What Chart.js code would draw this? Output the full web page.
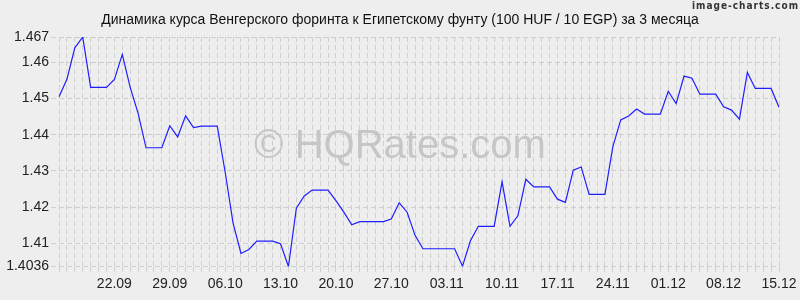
<!DOCTYPE html>
<html>
<head>
<meta charset="utf-8">
<script src="https://cdn.jsdelivr.net/npm/chart.js@4"></script>
<style>
  html, body { margin: 0; padding: 0; background: #eeeeee; }
  canvas { display: block; }
</style>
</head>
<body>
<canvas id="myChart" width="800" height="300"></canvas>
<script>
const titulo = "Динамика курса Венгерского форинта к Египетскому фунту (100 HUF / 10 EGP) за 3 месяца";

const fechas = [
  "15.09", "16.09", "17.09", "18.09", "19.09", "20.09", "21.09", "22.09", "23.09", "24.09",
  "25.09", "26.09", "27.09", "28.09", "29.09", "30.09",
  "01.10", "02.10", "03.10", "04.10", "05.10", "06.10", "07.10", "08.10", "09.10", "10.10",
  "11.10", "12.10", "13.10", "14.10", "15.10", "16.10", "17.10", "18.10", "19.10", "20.10",
  "21.10", "22.10", "23.10", "24.10", "25.10", "26.10", "27.10", "28.10", "29.10", "30.10", "31.10",
  "01.11", "02.11", "03.11", "04.11", "05.11", "06.11", "07.11", "08.11", "09.11", "10.11",
  "11.11", "12.11", "13.11", "14.11", "15.11", "16.11", "17.11", "18.11", "19.11", "20.11",
  "21.11", "22.11", "23.11", "24.11", "25.11", "26.11", "27.11", "28.11", "29.11", "30.11",
  "01.12", "02.12", "03.12", "04.12", "05.12", "06.12", "07.12", "08.12", "09.12", "10.12",
  "11.12", "12.12", "13.12", "14.12", "15.12"
];

const valores = [
  1.4505, 1.4553, 1.4640, 1.4670, 1.4531, 1.4531, 1.4531, 1.4553, 1.4622, 1.4531,
  1.4459, 1.4364, 1.4364, 1.4364, 1.4425, 1.4394, 1.4452, 1.4420, 1.4424, 1.4424,
  1.4424, 1.4297, 1.4156, 1.4072, 1.4083, 1.4106, 1.4106, 1.4106, 1.4099, 1.4036,
  1.4197, 1.4231, 1.4247, 1.4247, 1.4247, 1.4218, 1.4186, 1.4151, 1.4160, 1.4160,
  1.4160, 1.4160, 1.4167, 1.4212, 1.4186, 1.4122, 1.4085, 1.4085, 1.4085, 1.4085,
  1.4085, 1.4037, 1.4107, 1.4147, 1.4147, 1.4147, 1.4270, 1.4147, 1.4176, 1.4277,
  1.4256, 1.4256, 1.4256, 1.4222, 1.4213, 1.4302, 1.4311, 1.4235, 1.4235, 1.4235,
  1.4367, 1.4441, 1.4452, 1.4471, 1.4457, 1.4457, 1.4457, 1.4520, 1.4486, 1.4562,
  1.4556, 1.4512, 1.4512, 1.4512, 1.4477, 1.4468, 1.4443, 1.4572, 1.4528, 1.4528,
  1.4528, 1.4476
];

const etiquetasX = ["22.09", "29.09", "06.10", "13.10", "20.10", "27.10", "03.11",
  "10.11", "17.11", "24.11", "01.12", "08.12", "15.12"];

const ticksY = [1.4036, 1.41, 1.42, 1.43, 1.44, 1.45, 1.46, 1.467];

const fuente = "'Liberation Sans', Arial, sans-serif";

// fondo, titulo, marca de agua y texto de la esquina
const extras = {
  id: "extras",
  beforeDraw(chart) {
    const ctx = chart.ctx;
    ctx.save();
    ctx.fillStyle = "#eeeeee";
    ctx.fillRect(0, 0, chart.width, chart.height);
    ctx.font = "14px " + fuente;
    ctx.fillStyle = "#111111";
    ctx.textAlign = "center";
    ctx.textBaseline = "middle";
    ctx.fillText(titulo, 400, 20);
    ctx.restore();
  },
  beforeDatasetsDraw(chart) {
    const ctx = chart.ctx;
    ctx.save();
    ctx.font = "40px " + fuente;
    ctx.fillStyle = "#c6c6c6";
    ctx.textAlign = "center";
    ctx.textBaseline = "middle";
    ctx.fillText("© HQRates.com", 400, 147);
    ctx.restore();
  },
  afterDraw(chart) {
    const ctx = chart.ctx;
    ctx.save();
    ctx.font = "bold 10px 'DejaVu Sans Condensed', sans-serif";
    ctx.letterSpacing = "1px";
    ctx.fillStyle = "#333333";
    ctx.textAlign = "right";
    ctx.textBaseline = "middle";
    ctx.fillText("image-charts.com", 799, 6);
    ctx.restore();
  }
};

const chartDOM = document.getElementById("myChart");
const ctx = chartDOM.getContext("2d");

new Chart(ctx, {
  type: "line",
  data: {
    labels: fechas,
    datasets: [{
      label: "HUF/EGP",
      data: valores,
      borderColor: "#1e1eff",
      borderWidth: 1.2,
      pointRadius: 0,
      tension: 0,
      fill: false
    }]
  },
  options: {
    responsive: false,
    animation: false,
    events: [],
    layout: { padding: { top: 37, right: 21, bottom: 0, left: 0 } },
    plugins: {
      legend: { display: false },
      tooltip: { enabled: false },
      title: { display: false }
    },
    scales: {
      x: {
        type: "category",
        offset: false,
        grid: {
          color: "#cfcfcf",
          tickLength: 6,
          tickColor: "#cfcfcf",
          tickBorderDash: [5, 3]
        },
        border: { display: false, dash: [5, 3] },
        ticks: {
          autoSkip: false,
          maxRotation: 0,
          minRotation: 0,
          padding: 3,
          color: "#222222",
          font: { family: fuente, size: 14 },
          callback: function (value) {
            const lbl = this.getLabelForValue(value);
            return etiquetasX.includes(lbl) ? lbl : "";
          }
        },
        afterFit: (scale) => { scale.height = 33.5; }
      },
      y: {
        min: 1.4036,
        max: 1.467,
        grid: {
          color: "#cfcfcf",
          tickLength: 8,
          tickColor: "#cfcfcf",
          tickBorderDash: [5, 3]
        },
        border: { display: false, dash: [5, 3] },
        ticks: {
          padding: 2,
          color: "#222222",
          font: { family: fuente, size: 14 },
          callback: (value) => String(value)
        },
        afterBuildTicks: (scale) => {
          scale.ticks = ticksY.map((v) => ({ value: v }));
        },
        afterFit: (scale) => { scale.width = 59; }
      }
    }
  },
  plugins: [extras]
});
</script>
</body>
</html>
